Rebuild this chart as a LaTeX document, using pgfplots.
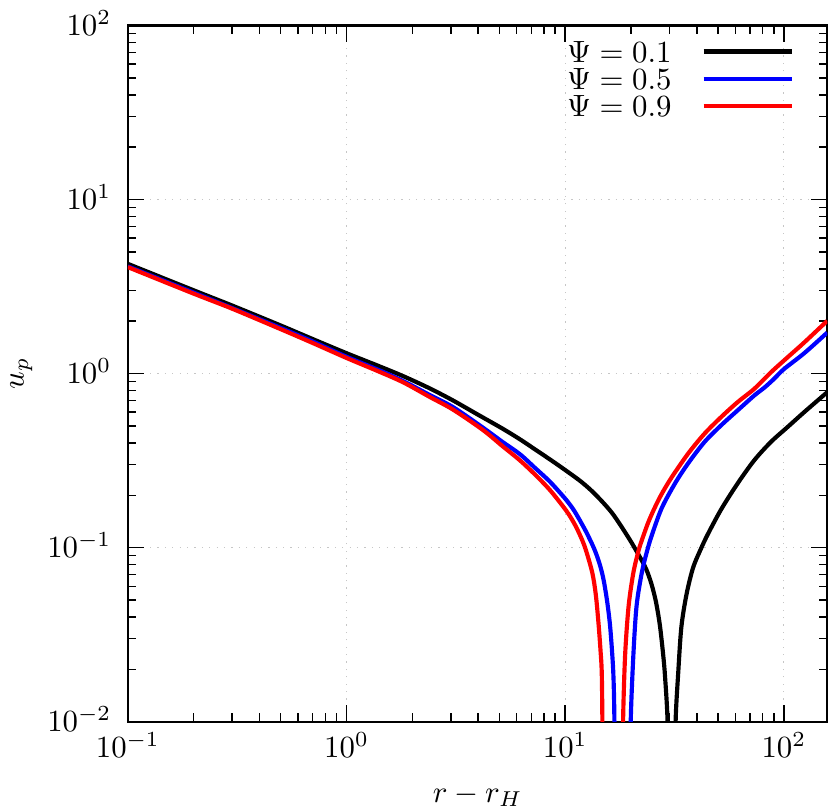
\documentclass[border=0pt]{standalone}
\usepackage{pgfplots}
\pgfplotsset{compat=1.18}
\begin{document}
\begin{tikzpicture}
\begin{loglogaxis}[
  name=ax,
  scale only axis,
  width=227.1pt, height=226.1pt,
  xmin=0.1, xmax=158, ymin=0.01, ymax=100,
  xtick={0.1,1,10,100}, ytick={0.01,0.1,1,10,100},
  grid=major,
  major grid style={dotted, gray!45, line width=0.4pt},
  axis line style={line width=0.7pt},
  every tick/.style={black, line width=0.5pt},
  major tick length=5.4pt, minor tick length=2.8pt,
  tick align=inside,
  ylabel={$u_p$},
  ylabel style={at={(axis description cs:-0.1524,0.5)}, anchor=center},
  yticklabel style={anchor=base east, xshift=-1.9pt, yshift=-3.2pt},
  legend plot pos=right, legend cell align=right,
  legend style={draw=none, fill=none, at={(rel axis cs:1,1)}, anchor=north east,
    xshift=-10.6pt, yshift=-4.8pt, inner sep=0pt, column sep=9.7pt, row sep=2.0pt,
    nodes={inner sep=0pt, text height=6.9pt, text depth=0pt}},
  legend image code/.code={\draw[#1] (0pt,0pt) -- (28.7pt,0pt);},
  every axis plot/.append style={line width=1.35pt, smooth, tension=0.5},
]
% Psi = 0.1, left branch
\addplot[black] coordinates {
  (0.1,4.27) (0.2,3.01) (0.3,2.46) (0.5,1.89) (0.7,1.58) (1.0,1.31)
  (1.4,1.107) (1.82,0.966) (2.4,0.823) (3.07,0.701) (4.0,0.58) (5.17,0.483)
  (6.2,0.42) (7.33,0.365) (8.5,0.322) (9.7,0.287) (11.8,0.240)
  (13.7,0.203) (16.4,0.158) (19.5,0.114) (22.0,0.088) (23.5,0.075)
  (24.8,0.062) (26.0,0.049) (27.1,0.036) (28.0,0.025) (28.6,0.0185)
  (29.4,0.01) (29.5,0.004)
};
\addlegendentry{$\Psi = 0.1$}
% Psi = 0.5, left branch
\addplot[blue] coordinates {
  (0.1,4.13) (0.2,2.92) (0.3,2.38) (0.5,1.83) (0.7,1.53) (1.0,1.25)
  (1.4,1.05) (1.82,0.905) (2.4,0.754) (3.07,0.642) (4.2,0.49) (5.17,0.405)
  (6.2,0.345) (7.33,0.285) (8.5,0.240) (9.7,0.200) (10.4,0.180)
  (11.1,0.160) (12.4,0.125) (13.6,0.098) (14.4,0.080) (15.0,0.065)
  (15.6,0.048) (16.1,0.034) (16.6,0.0192) (16.8,0.01) (16.85,0.004)
};
\addlegendentry{$\Psi = 0.5$}
% Psi = 0.9, left branch
\addplot[red] coordinates {
  (0.1,4.09) (0.2,2.88) (0.3,2.36) (0.5,1.80) (0.7,1.50) (1.0,1.23)
  (1.4,1.03) (1.82,0.89) (2.4,0.735) (3.07,0.621) (4.2,0.475) (5.17,0.383)
  (6.2,0.318) (7.33,0.261) (8.5,0.215) (9.7,0.175) (10.4,0.155)
  (11.1,0.135) (11.8,0.115) (12.4,0.098) (13.3,0.072) (13.8,0.054)
  (14.2,0.037) (14.5,0.026) (14.7,0.0192) (14.8,0.01) (14.85,0.004)
};
\addlegendentry{$\Psi = 0.9$}
% right branches
\addplot[black, forget plot] coordinates {
  (31.9,0.004) (32.0,0.01) (32.9,0.0192) (34.0,0.035) (35.9,0.054)
  (38.5,0.077) (42,0.100) (45,0.120) (51.7,0.166) (61.5,0.234)
  (73.3,0.318) (87.3,0.405) (104,0.493) (124,0.601) (158,0.782)
};
\addplot[blue, forget plot] coordinates {
  (19.9,0.004) (19.95,0.01) (20.5,0.0239) (21.2,0.046) (22.4,0.0716)
  (23.6,0.094) (24.8,0.116) (27.6,0.168) (31.8,0.234) (36.5,0.305)
  (43.4,0.405) (51.7,0.505) (61.5,0.615) (73.3,0.749) (81.4,0.83)
  (90,0.93) (100,1.06) (124,1.31) (158,1.72)
};
\addplot[red, forget plot] coordinates {
  (18.35,0.004) (18.4,0.01) (18.8,0.024) (19.5,0.046) (20.5,0.0716)
  (21.6,0.095) (22.4,0.110) (24.0,0.140) (25.7,0.170) (27.6,0.203)
  (30.6,0.252) (36.5,0.347) (43.4,0.452) (51.7,0.563) (61.5,0.686)
  (73.3,0.818) (87.3,1.017) (104,1.24) (124,1.51) (158,2.01)
};
\end{loglogaxis}
\node[anchor=base, inner sep=0pt] at ([yshift=-26.1pt]ax.south) {$r - r_H$};
\path (-39.7pt,-28.1pt) rectangle (228pt,233.5pt);
\end{tikzpicture}
\end{document}
